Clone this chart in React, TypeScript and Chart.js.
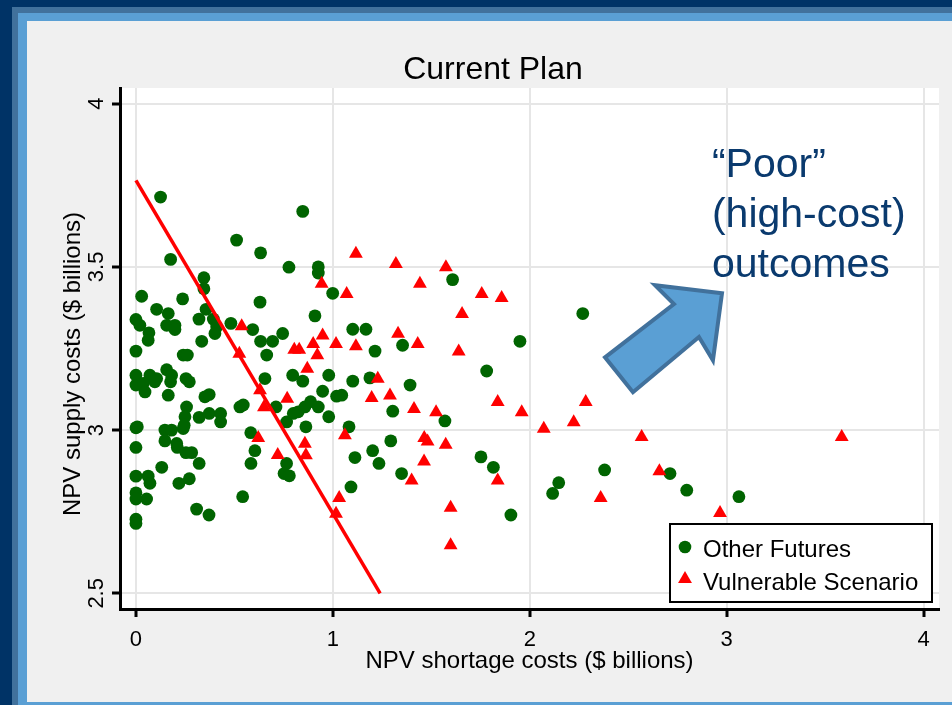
import React, { useEffect, useRef } from "react";
import { Chart, registerables } from "chart.js";

Chart.register(...registerables);

const FONT = '"Liberation Sans", Arial, Helvetica, sans-serif';

const chartTitle = "Current Plan";
const xAxisTitle = "NPV shortage costs ($ billions)";
const yAxisTitle = "NPV supply costs ($ billions)";
const seriesNames = ["Other Futures", "Vulnerable Scenario"];
const annotationLines = ["\u201CPoor\u201D", "(high-cost)", "outcomes"];

const xTickValues = [0, 1, 2, 3, 4];
const yTickValues = [2.5, 3, 3.5, 4];

// [NPV shortage costs, NPV supply costs]
const otherFutures: [number, number][] = [
  [0.125, 3.714], [0.847, 3.67], [0.511, 3.582], [0.633, 3.543], [0.176, 3.523],
  [0.777, 3.499], [0.926, 3.5], [0.926, 3.481], [0.345, 3.467], [0.345, 3.433],
  [0.029, 3.41], [0.237, 3.402], [0.63, 3.392], [0.999, 3.419], [0.105, 3.37],
  [0.164, 3.357], [0.0, 3.339], [0.02, 3.321], [0.156, 3.321], [0.198, 3.321],
  [0.198, 3.308], [0.32, 3.34], [0.356, 3.37], [0.393, 3.34], [0.41, 3.316],
  [0.401, 3.296], [0.482, 3.327], [0.593, 3.308], [0.909, 3.35], [0.745, 3.296],
  [0.066, 3.298], [0.062, 3.275], [0.633, 3.272], [0.694, 3.272], [0.334, 3.272],
  [0.0, 3.242], [0.24, 3.23], [0.261, 3.23], [0.664, 3.23], [0.156, 3.185],
  [1.101, 3.309], [0.0, 3.168], [0.0, 3.138], [0.071, 3.168], [0.105, 3.158],
  [0.096, 3.148], [0.181, 3.168], [0.176, 3.148], [0.037, 3.143], [0.046, 3.117],
  [0.254, 3.158], [0.271, 3.148], [0.164, 3.107], [0.35, 3.102], [0.372, 3.109],
  [0.257, 3.071], [0.249, 3.041], [0.321, 3.039], [0.372, 3.051], [0.43, 3.051],
  [0.43, 3.025], [0.528, 3.071], [0.545, 3.077], [0.24, 3.005], [0.245, 3.015],
  [0.0, 3.007], [0.007, 3.01], [0.147, 3.0], [0.181, 3.0], [0.147, 2.967],
  [0.207, 2.959], [0.21, 2.947], [0.0, 2.947], [0.254, 2.931], [0.283, 2.931],
  [0.321, 2.898], [0.131, 2.886], [0.0, 2.859], [0.062, 2.859], [0.071, 2.837],
  [0.218, 2.837], [0.271, 2.851], [0.0, 2.808], [0.0, 2.789], [0.054, 2.789],
  [0.308, 2.758], [0.371, 2.74], [0.0, 2.727], [0.0, 2.714], [0.542, 2.796],
  [0.583, 2.992], [0.604, 2.937], [0.584, 2.898], [0.655, 3.158], [0.796, 3.168],
  [0.847, 3.15], [0.979, 3.168], [0.948, 3.119], [1.019, 3.104], [1.045, 3.107],
  [0.711, 3.071], [0.765, 3.025], [0.799, 3.051], [0.824, 3.056], [0.858, 3.071],
  [0.887, 3.087], [0.926, 3.071], [0.979, 3.041], [0.863, 3.01], [0.765, 2.898],
  [0.752, 2.867], [0.779, 2.86], [1.082, 3.01], [1.092, 2.826], [1.101, 3.15],
  [1.608, 3.461], [2.269, 3.357], [1.168, 3.309], [1.95, 3.272], [1.354, 3.26],
  [1.214, 3.242], [1.781, 3.181], [1.188, 3.16], [1.392, 3.138], [1.304, 3.058],
  [1.569, 3.028], [1.294, 2.967], [1.112, 2.916], [1.202, 2.937], [1.234, 2.898],
  [1.349, 2.867], [1.752, 2.918], [1.815, 2.886], [2.147, 2.839], [2.116, 2.806],
  [2.38, 2.878], [1.904, 2.74], [2.712, 2.867], [2.797, 2.816], [3.062, 2.796],
];

const vulnerableScenario: [number, number][] = [
  [0.943, 3.448], [1.07, 3.417], [0.537, 3.318], [0.948, 3.29], [0.9, 3.264],
  [1.016, 3.264], [0.804, 3.246], [0.829, 3.246], [0.921, 3.229], [0.525, 3.234],
  [0.87, 3.188], [0.63, 3.122], [0.65, 3.07], [0.768, 3.096], [0.621, 2.976],
  [0.72, 2.924], [0.858, 2.958], [0.863, 2.923], [1.061, 2.984], [1.032, 2.792],
  [1.016, 2.744], [1.117, 3.54], [1.32, 3.509], [1.574, 3.499], [1.442, 3.448],
  [1.756, 3.417], [1.857, 3.405], [1.656, 3.356], [1.331, 3.295], [1.431, 3.264],
  [1.117, 3.257], [1.639, 3.241], [1.228, 3.157], [1.197, 3.098], [1.29, 3.106],
  [1.412, 3.065], [1.524, 3.055], [1.837, 3.086], [1.959, 3.055], [2.284, 3.086],
  [2.223, 3.024], [2.071, 3.004], [1.464, 2.976], [1.481, 2.965], [1.573, 2.955],
  [1.463, 2.904], [1.4, 2.846], [1.837, 2.846], [2.36, 2.792], [1.598, 2.762],
  [1.598, 2.647], [2.568, 2.979], [3.584, 2.979], [2.658, 2.874], [2.966, 2.746],
];

const boundaryX = [0, 1.24];
const boundaryY = [3.765, 2.5];

// block arrow outline, in data units
const arrowOutline: [number, number][] = [
  [2.976, 3.419], [2.93, 3.214], [2.859, 3.285], [2.524, 3.116],
  [2.382, 3.223], [2.732, 3.386], [2.636, 3.444],
];
const annotationX = 2.925;
const annotationBaselines = [3.774, 3.621, 3.468];

const GREEN = "#006400";
const RED = "#ff0000";

const framePlugin = {
  id: "frameDecor",
  beforeDraw(chart: any) {
    const ctx = chart.ctx as CanvasRenderingContext2D;
    const { width, height } = chart;
    ctx.save();
    ctx.fillStyle = "#003366";
    ctx.fillRect(0, 0, width, height);
    ctx.fillStyle = "#41719c";
    ctx.fillRect(12, 7, width - 12, height - 7);
    ctx.fillStyle = "#5a9fd4";
    ctx.fillRect(18, 13, width - 18, height - 13);
    ctx.fillStyle = "#f0f0f0";
    ctx.fillRect(27, 21, width - 27, 702 - 21);
    const a = chart.chartArea;
    ctx.fillStyle = "#ffffff";
    ctx.fillRect(a.left, a.top, a.right - a.left, a.bottom - a.top);

    ctx.fillStyle = "#000";
    ctx.font = `32px ${FONT}`;
    ctx.textAlign = "center";
    ctx.textBaseline = "alphabetic";
    ctx.fillText(chartTitle, 493, 79);

    ctx.translate(80, 364);
    ctx.rotate(-Math.PI / 2);
    ctx.font = `24px ${FONT}`;
    ctx.fillText(yAxisTitle, 0, 0);
    ctx.restore();
  },
  afterDraw(chart: any) {
    const ctx = chart.ctx as CanvasRenderingContext2D;
    const xs = chart.scales.x;
    const ys = chart.scales.y;
    const a = chart.chartArea;
    ctx.save();

    // arrow
    ctx.beginPath();
    arrowOutline.forEach(([vx, vy], i) => {
      const px = xs.getPixelForValue(vx);
      const py = ys.getPixelForValue(vy);
      if (i === 0) ctx.moveTo(px, py);
      else ctx.lineTo(px, py);
    });
    ctx.closePath();
    ctx.fillStyle = "#5a9fd4";
    ctx.fill();
    ctx.lineWidth = 4;
    ctx.lineJoin = "miter";
    ctx.strokeStyle = "#41719c";
    ctx.stroke();

    // annotation
    ctx.fillStyle = "#0a3a6e";
    ctx.font = `41px ${FONT}`;
    ctx.textAlign = "left";
    ctx.textBaseline = "alphabetic";
    annotationLines.forEach((t, i) => {
      ctx.fillText(t, xs.getPixelForValue(annotationX), ys.getPixelForValue(annotationBaselines[i]));
    });

    // legend
    const bx = a.right - 269;
    const by = a.bottom - 85;
    const bw = 262;
    const bh = 78;
    ctx.fillStyle = "#fff";
    ctx.fillRect(bx, by, bw, bh);
    ctx.strokeStyle = "#000";
    ctx.lineWidth = 2;
    ctx.strokeRect(bx, by, bw, bh);

    ctx.fillStyle = GREEN;
    ctx.beginPath();
    ctx.arc(bx + 15, by + 23, 6.3, 0, Math.PI * 2);
    ctx.fill();

    const r = 8;
    const tx = bx + 15;
    const ty = by + 55;
    ctx.fillStyle = RED;
    ctx.beginPath();
    ctx.moveTo(tx, ty - r);
    ctx.lineTo(tx + r * Math.sin((2 * Math.PI) / 3), ty - r * Math.cos((2 * Math.PI) / 3));
    ctx.lineTo(tx + r * Math.sin((4 * Math.PI) / 3), ty - r * Math.cos((4 * Math.PI) / 3));
    ctx.closePath();
    ctx.fill();

    ctx.fillStyle = "#000";
    ctx.font = `24px ${FONT}`;
    ctx.textBaseline = "middle";
    ctx.fillText(seriesNames[0], bx + 33, by + 26);
    ctx.fillText(seriesNames[1], bx + 33, by + 59);
    ctx.restore();
  },
};

export default function App() {
  const canvasRef = useRef<HTMLCanvasElement | null>(null);

  useEffect(() => {
    document.body.style.margin = "0";
    const canvas = canvasRef.current;
    if (!canvas) return;

    const chart = new Chart(canvas, {
      type: "scatter",
      data: {
        datasets: [
          {
            label: "boundary",
            data: boundaryX.map((x, i) => ({ x, y: boundaryY[i] })),
            showLine: true,
            borderColor: RED,
            borderWidth: 3.5,
            pointRadius: 0,
            fill: false,
            order: 0,
          } as any,
          {
            label: seriesNames[1],
            data: vulnerableScenario.map(([x, y]) => ({ x, y })),
            pointStyle: "triangle",
            pointRadius: 8,
            backgroundColor: RED,
            borderWidth: 0,
            order: 1,
          },
          {
            label: seriesNames[0],
            data: otherFutures.map(([x, y]) => ({ x, y })),
            pointStyle: "circle",
            pointRadius: 6.4,
            backgroundColor: GREEN,
            borderWidth: 0,
            order: 2,
          },
        ],
      },
      options: {
        animation: false,
        responsive: false,
        devicePixelRatio: 1,
        layout: { padding: { left: 0, right: 13, top: 88, bottom: 0 } },
        plugins: {
          legend: { display: false },
          title: { display: false },
          tooltip: { enabled: false },
        },
        scales: {
          x: {
            type: "linear",
            position: "bottom",
            min: -0.081,
            max: 4.078,
            afterBuildTicks: (s: any) => {
              s.ticks = xTickValues.map((v) => ({ value: v }));
            },
            afterFit: (s: any) => {
              s.height = 96;
            },
            grid: {
              color: "#e6e6e6",
              lineWidth: 2,
              drawTicks: true,
              tickLength: 8,
              tickColor: "#000",
              tickWidth: 3,
            },
            border: { display: true, color: "#000", width: 3 },
            ticks: {
              color: "#000",
              font: { family: FONT, size: 22 },
              padding: 10,
              maxRotation: 0,
              minRotation: 0,
              callback: (v: any) => String(v),
            },
            title: {
              display: true,
              text: xAxisTitle,
              color: "#000",
              font: { family: FONT, size: 24 },
              padding: { top: 0, bottom: 29 },
            },
          },
          y: {
            type: "linear",
            position: "left",
            min: 2.452,
            max: 4.048,
            afterBuildTicks: (s: any) => {
              s.ticks = yTickValues.map((v) => ({ value: v }));
            },
            afterFit: (s: any) => {
              s.width = 120;
            },
            grid: {
              color: "#e6e6e6",
              lineWidth: 2,
              drawTicks: true,
              tickLength: 8,
              tickColor: "#000",
              tickWidth: 3,
            },
            border: { display: true, color: "#000", width: 3 },
            ticks: {
              color: "#000",
              font: { family: FONT, size: 22 },
              padding: 0,
              minRotation: 90,
              maxRotation: 90,
              crossAlign: "center",
              callback: (v: any) => String(v),
            },
            title: { display: false },
          },
        },
      },
      plugins: [framePlugin],
    });

    return () => chart.destroy();
  }, []);

  return (
    <div style={{ position: "relative", width: 952, height: 705 }}>
      <canvas ref={canvasRef} width={952} height={705} style={{ display: "block" }} />
    </div>
  );
}
